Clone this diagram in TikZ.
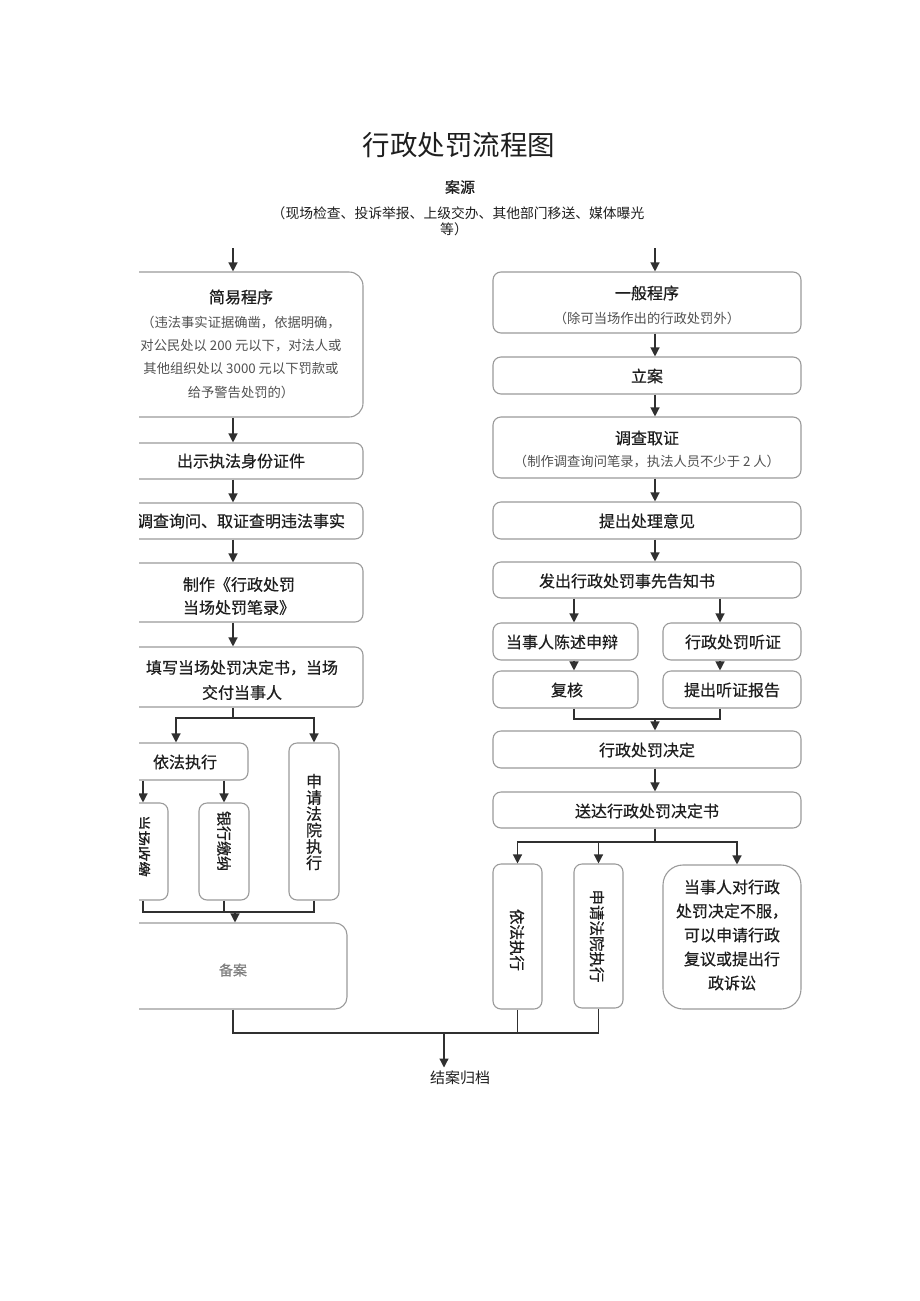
\documentclass[tikz,border=0pt]{standalone}
\usepackage{fontspec}
\setmainfont{Noto Sans CJK SC}
\newfontfamily\cjkmed[FakeBold=0.6]{Noto Sans CJK SC}
\usetikzlibrary{arrows.meta}
\definecolor{boxc}{HTML}{9A9A9A}
\definecolor{linec}{HTML}{303030}
\definecolor{txtc}{HTML}{1E1E1E}
\definecolor{subc}{HTML}{505050}
\definecolor{fadec}{HTML}{808080}
\begin{document}
\begin{tikzpicture}[x=1pt,y=-1pt,
  box/.style={draw=boxc, line width=1.1pt, rounded corners=8pt, inner sep=0pt, text=txtc},
  arr/.style={draw=linec, line width=1.25pt, -{Triangle[length=9pt,width=9pt]}},
  ln/.style={draw=linec, line width=1.25pt},
  ft/.style={font=\cjkmed\fontsize{16}{23}\selectfont, text=txtc, inner sep=0pt},
  vt/.style={font=\cjkmed\fontsize{15.5}{16}\selectfont, text=txtc, inner sep=0pt, rotate=-90},
  sub/.style={font=\fontsize{13.3}{23.3}\selectfont, text=subc, inner sep=0pt}]
\useasboundingbox (0,0) rectangle (920,1301);

% titles
\node[font=\fontsize{27.5}{30}\selectfont, text=txtc] (title) at (459,145) {行政处罚流程图};
\node[font=\cjkmed\fontsize{15}{18}\selectfont, text=txtc] (src) at (460,187) {案源};
\node[font=\fontsize{13.8}{16}\selectfont, text=txtc] (src2) at (458,213) {（现场检查、投诉举报、上级交办、其他部门移送、媒体曝光};
\node[font=\fontsize{13.8}{16}\selectfont, text=txtc] (src3) at (454,229) {等）};
\node[font=\fontsize{15}{18}\selectfont, text=txtc] (end) at (460,1078) {结案归档};

\begin{scope}
\clip (139,240) rectangle (808,1062);

% ---------- left column ----------
\node[box, rounded corners=14pt, minimum width=244pt, minimum height=145pt] (jy) at (241,344.5) {};
\node[ft] (jyt) at (241,297) {简易程序};
\node[sub, align=center] (jyd) at (241,357) {（违法事实证据确凿，依据明确，\\对公民处以 200 元以下，对法人或\\其他组织处以 3000 元以下罚款或\\给予警告处罚的）};

\node[box, minimum width=244pt, minimum height=36pt] (cs) at (241,461) {};
\node[ft] (cst) at (241,461) {出示执法身份证件};

\node[box, minimum width=244pt, minimum height=36pt] (dc) at (241,521) {};
\node[ft] (dct) at (241,521) {调查询问、取证查明违法事实};

\node[box, minimum width=244pt, minimum height=59pt] (zz) at (241,592.5) {};
\node[ft, align=center] (zzt) at (239,596) {制作《行政处罚\\当场处罚笔录》};

\node[box, minimum width=244pt, minimum height=60pt] (tx) at (241,677) {};
\node[ft, align=center, font=\cjkmed\fontsize{16}{25}\selectfont] (txt) at (242,680) {填写当场处罚决定书，当场\\交付当事人};

\node[box, minimum width=126pt, minimum height=37pt] (yf) at (185,761.5) {};
\node[ft] (yft) at (185,762) {依法执行};

\node[box, minimum width=50pt, minimum height=157pt] (sq) at (314,821.5) {};
\node[ft, align=center, font=\cjkmed\fontsize{16}{16.3}\selectfont] (sqt) at (314,822) {申\\请\\法\\院\\执\\行};

\node[box, minimum width=50pt, minimum height=97pt] (dcs) at (143,851.5) {};
\node[vt] (dcst) at (143,846) {当场收缴};

\node[box, minimum width=50pt, minimum height=97pt] (yh) at (224,851.5) {};
\node[vt, font=\cjkmed\fontsize{15}{16}\selectfont] (yht) at (224,841) {银行缴纳};

\node[box, rounded corners=12pt, minimum width=228pt, minimum height=86pt] (ba) at (233,966) {};
\node[font=\cjkmed\fontsize{14}{16}\selectfont, text=fadec] (bat) at (233,970) {备案};

% ---------- right column ----------
\node[box, minimum width=308pt, minimum height=61pt] (yb) at (647,302.5) {};
\node[ft] (ybt) at (647,293) {一般程序};
\node[sub] (ybd) at (647,318) {（除可当场作出的行政处罚外）};

\node[box, minimum width=308pt, minimum height=37pt] (la) at (647,375.5) {};
\node[ft] (lat) at (647,376) {立案};

\node[box, minimum width=308pt, minimum height=61pt] (dq) at (647,447.5) {};
\node[ft] (dqt) at (647,438) {调查取证};
\node[sub] (dqd) at (647,462) {（制作调查询问笔录，执法人员不少于 2 人）};

\node[box, minimum width=308pt, minimum height=37pt] (tc) at (647,520.5) {};
\node[ft] (tct) at (647,521) {提出处理意见};

\node[box, minimum width=308pt, minimum height=36pt] (fc) at (647,580) {};
\node[ft] (fct) at (627,581) {发出行政处罚事先告知书};

\node[box, minimum width=145pt, minimum height=37pt] (ds) at (565.5,641.5) {};
\node[ft] (dst) at (562,642) {当事人陈述申辩};
\node[box, minimum width=138pt, minimum height=37pt] (tz) at (732,641.5) {};
\node[ft] (tzt) at (733,642) {行政处罚听证};

\node[box, minimum width=145pt, minimum height=37pt] (fh) at (565.5,689.5) {};
\node[ft] (fht) at (567,690) {复核};
\node[box, minimum width=138pt, minimum height=37pt] (bg) at (732,689.5) {};
\node[ft] (bgt) at (732,690) {提出听证报告};

\node[box, minimum width=308pt, minimum height=37pt] (jd) at (647,749.5) {};
\node[ft] (jdt) at (647,750) {行政处罚决定};

\node[box, minimum width=308pt, minimum height=36pt] (sd) at (647,810) {};
\node[ft] (sdt) at (647,811) {送达行政处罚决定书};

\node[box, minimum width=49pt, minimum height=145pt] (ryf) at (517.5,936.5) {};
\node[vt] (ryft) at (517,940) {依法执行};
\node[box, minimum width=49pt, minimum height=144pt] (rsq) at (598.5,936) {};
\node[vt] (rsqt) at (597,936) {申请法院执行};
\node[box, rounded corners=20pt, minimum width=138pt, minimum height=144pt] (bf) at (732,937) {};
\node[ft, align=center, font=\cjkmed\fontsize{16}{24}\selectfont] (bft) at (732,935) {当事人对行政\\处罚决定不服，\\可以申请行政\\复议或提出行\\政诉讼};

% ---------- coordinates ----------
\coordinate (L) at (233,0);
\coordinate (R) at (655,0);
\coordinate (t1) at (233,248);
\coordinate (t2) at (655,248);
\coordinate (s1) at (233,718);
\coordinate (b1) at (176,0);
\coordinate (m1) at (235,912);
\coordinate (a1) at (574,0);
\coordinate (a2) at (720,0);
\coordinate (m2) at (655,719);
\coordinate (s2) at (655,842);
\coordinate (a3) at (737,0);
\coordinate (e) at (444,1033);

% ---------- left connectors ----------
\draw[arr] (t1) -- (jy.north -| L);
\draw[arr] (jy.south -| L) -- (cs.north -| L);
\draw[arr] (cs.south -| L) -- (dc.north -| L);
\draw[arr] (dc.south -| L) -- (zz.north -| L);
\draw[arr] (zz.south -| L) -- (tx.north -| L);
\draw[ln] (tx.south -| L) -- (s1);
\draw[arr] (s1) -| (yf.north -| b1);
\draw[arr] (s1) -| (sq.north);
\draw[arr] (yf.south -| dcs) -- (dcs.north);
\draw[arr] (yf.south -| yh) -- (yh.north);
\draw[ln] (dcs.south) |- (m1);
\draw[ln] (yh.south) |- (m1);
\draw[ln] (sq.south) |- (m1);
\draw[arr] (m1) -- (ba.north -| m1);

% ---------- right connectors ----------
\draw[arr] (t2) -- (yb.north -| R);
\draw[arr] (yb.south -| R) -- (la.north -| R);
\draw[arr] (la.south -| R) -- (dq.north -| R);
\draw[arr] (dq.south -| R) -- (tc.north -| R);
\draw[arr] (tc.south -| R) -- (fc.north -| R);
\draw[arr] (fc.south -| a1) -- (ds.north -| a1);
\draw[arr] (fc.south -| a2) -- (tz.north -| a2);
\draw[arr] (ds.south -| a1) -- (fh.north -| a1);
\draw[arr] (tz.south -| a2) -- (bg.north -| a2);
\draw[ln] (fh.south -| a1) |- (m2);
\draw[ln] (bg.south -| a2) |- (m2);
\draw[arr] (m2) -- (jd.north -| R);
\draw[arr] (jd.south -| R) -- (sd.north -| R);
\draw[ln] (sd.south -| R) -- (s2);
\draw[arr] (s2) -| (ryf.north);
\draw[arr] (s2) -| (rsq.north);
\draw[arr] (s2) -| (bf.north -| a3);

% ---------- bottom ----------
\draw[ln] (ba.south -| L) |- (e);
\draw[ln] (ryf.south) |- (e);
\draw[ln] (rsq.south) |- (e);
\end{scope}
\draw[arr] (e) -- (end.north -| e);
\end{tikzpicture}
\end{document}
